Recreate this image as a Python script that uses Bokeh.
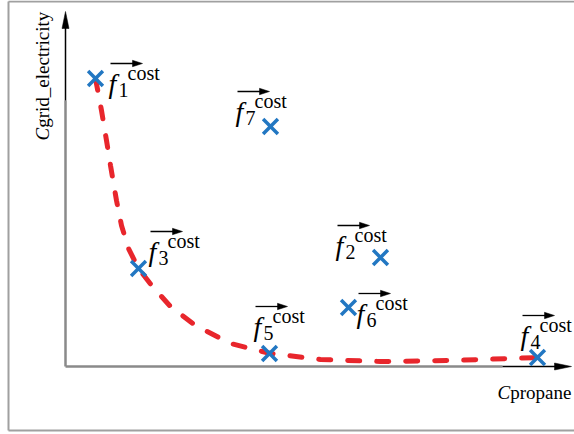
import numpy as np
from bokeh.plotting import figure
from bokeh.models import Range1d
from bokeh.core.properties import value
from bokeh.embed import file_html
from bokeh.resources import INLINE

# Cost vectors f_i^cost in (C_propane, C_grid_electricity) space
point_ids = ["1", "2", "3", "4", "5", "6", "7"]
c_propane = [0.60, 6.30, 1.46, 9.44, 4.08, 5.66, 4.10]
c_grid = [5.76, 2.18, 1.96, 0.18, 0.26, 1.18, 4.80]

# Pareto front through the non-dominated points
front_propane = [0.60, 0.72, 0.82, 0.90, 1.02, 1.12, 1.26, 1.46, 1.74, 2.10,
                 2.60, 3.30, 4.10, 5.10, 6.30, 7.70, 9.44]
front_grid = [5.76, 5.12, 4.52, 4.02, 3.32, 2.82, 2.36, 1.96, 1.60, 1.20,
              0.82, 0.46, 0.26, 0.14, 0.10, 0.12, 0.18]

# Label placement: pixel offset from each marker to the label's left edge / baseline
label_dx = [13, -45, 10, -17, -16, 8, -35]
label_dy = [2, -15, -20, -25, -30, 3, -18]

W, H = 574, 434
UNIT = 50.0          # pixels per data unit
OX, OY = 65, 366     # origin in screen pixels
LIFT = 8             # baseline correction for the svg text renderer, px


def dx(px):
    return px / UNIT


def sx(px):
    return (px - OX) / UNIT


def sy(py):
    return (OY - py) / UNIT


p = figure(width=W, height=H, output_backend="svg", toolbar_location=None,
           x_axis_type=None, y_axis_type=None, min_border=0,
           x_range=Range1d(sx(0), sx(W)), y_range=Range1d(sy(H), sy(0)))
p.grid.visible = False
p.outline_line_color = None
p.background_fill_color = "white"
p.border_fill_color = "white"

SERIF = value("Liberation Serif")
GRAY = "#8a8a8a"

# outer frame
p.segment(x0=[sx(8), sx(8), sx(8)], y0=[sy(1), sy(1), sy(430)],
          x1=[sx(8), sx(W), sx(W)], y1=[sy(430), sy(1), sy(430)],
          line_color="#a0a0a0", line_width=2)

# axes: gray shafts with black heads
p.segment(x0=[0, 0], y0=[0, 0], x1=[sx(502), 0], y1=[0, sy(100)],
          line_color=GRAY, line_width=2.5)
p.segment(x0=[sx(502), 0], y0=[0, sy(100)], x1=[sx(556), 0], y1=[0, sy(26)],
          line_color="black", line_width=1.5)
p.patches(xs=[[sx(571), sx(554), sx(554)], [0, dx(-3.5), dx(3.5)]],
          ys=[[0, dx(3.5), dx(-3.5)], [sy(11), sy(28), sy(28)]],
          fill_color="black", line_color="black", line_width=0.5)

# axis titles
p.text(x=[sx(50 - LIFT)], y=[sy(140)], text=["C"], angle=np.pi / 2,
       text_font=SERIF, text_font_style="italic", text_font_size="19px",
       text_color="black", text_baseline="alphabetic", text_align="left")
p.text(x=[sx(50 - LIFT)], y=[sy(140 - 12.7)], text=["grid_electricity"], angle=np.pi / 2,
       text_font=SERIF, text_font_size="19px",
       text_color="black", text_baseline="alphabetic", text_align="left")
p.text(x=[sx(497)], y=[sy(400 - LIFT)], text=["C"],
       text_font=SERIF, text_font_style="italic", text_font_size="19px",
       text_color="black", text_baseline="alphabetic", text_align="left")
p.text(x=[sx(497 + 12.7)], y=[sy(400 - LIFT)], text=["propane"],
       text_font=SERIF, text_font_size="19px",
       text_color="black", text_baseline="alphabetic", text_align="left")

# Pareto front
p.line(front_propane, front_grid, line_color="#e8262c", line_width=5,
       line_dash="12 17", line_cap="round")

# cost points
p.scatter(c_propane, c_grid, marker="x", size=21, line_width=3.5,
          line_color="#2277c2")

# vector labels  f_i^cost with arrow
fl = np.array(c_propane) + np.array(label_dx) / UNIT      # left edge of "f"
cb = np.array(c_grid) - np.array(label_dy) / UNIT         # baseline of "cost"
tb = cb + dx(LIFT)

p.text(x=fl, y=tb - dx(11), text=["f"] * len(point_ids),
       text_font=SERIF, text_font_style="italic", text_font_size="28px",
       text_color="black", text_baseline="alphabetic", text_align="left")
p.text(x=fl + dx(10), y=tb - dx(17), text=point_ids,
       text_font=SERIF, text_font_size="20px",
       text_color="black", text_baseline="alphabetic", text_align="left")
p.text(x=fl + dx(19), y=tb, text=["cost"] * len(point_ids),
       text_font=SERIF, text_font_size="20px",
       text_color="black", text_baseline="alphabetic", text_align="left")

ay = cb + dx(17)
p.segment(x0=fl + dx(2), y0=ay, x1=fl + dx(26), y1=ay,
          line_color="black", line_width=1.3)
p.patches(xs=[[x + dx(34), x + dx(24), x + dx(24)] for x in fl],
          ys=[[y, y + dx(3.2), y - dx(3.2)] for y in ay],
          fill_color="black", line_color="black", line_width=0.5)

open("out.html", "w").write(file_html(p, INLINE))
